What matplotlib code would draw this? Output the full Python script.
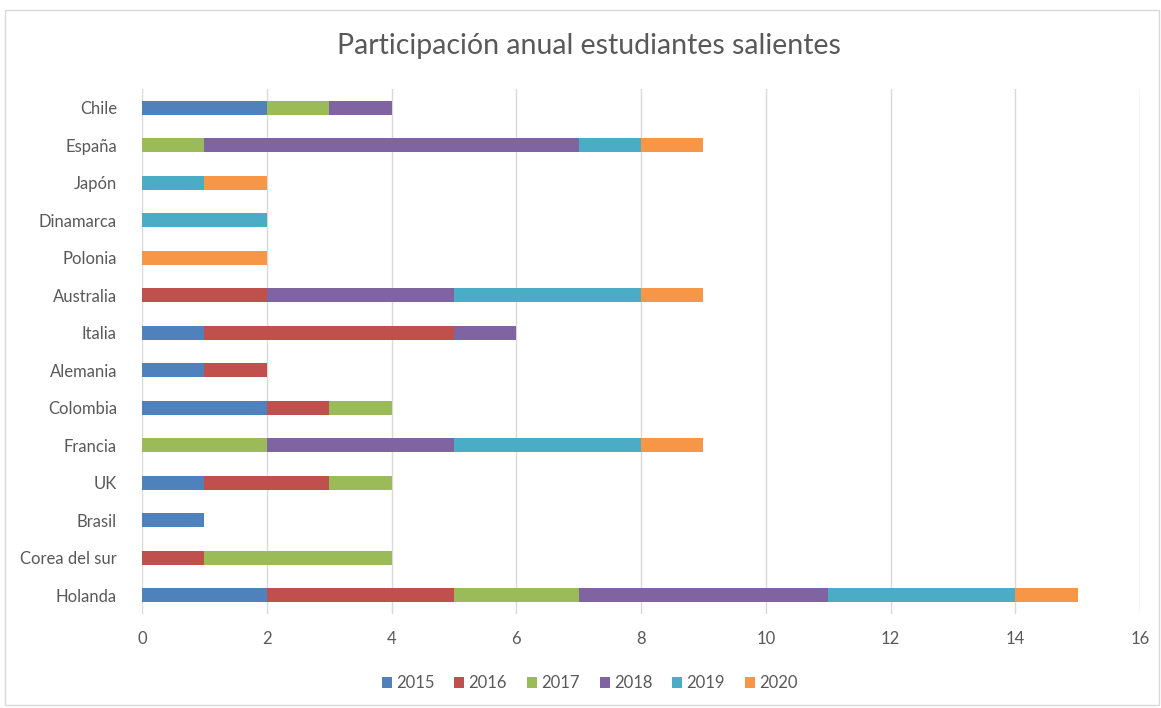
import matplotlib.pyplot as plt
from matplotlib.patches import Rectangle
import numpy as np

plt.rcParams['font.family'] = ['Lato', 'DejaVu Sans']

paises = ['Chile', 'España', 'Japón', 'Dinamarca', 'Polonia', 'Australia', 'Italia',
          'Alemania', 'Colombia', 'Francia', 'UK', 'Brasil', 'Corea del sur', 'Holanda']
anios = ['2015', '2016', '2017', '2018', '2019', '2020']
colores = ['#4F81BD', '#C0504D', '#9BBB59', '#8064A2', '#4BACC6', '#F79646']

# estudiantes por año, en el orden de paises
v2015 = [2, 0, 0, 0, 0, 0, 1, 1, 2, 0, 1, 1, 0, 2]
v2016 = [0, 0, 0, 0, 0, 2, 4, 1, 1, 0, 2, 0, 1, 3]
v2017 = [1, 1, 0, 0, 0, 0, 0, 0, 1, 2, 1, 0, 3, 2]
v2018 = [1, 6, 0, 0, 0, 3, 1, 0, 0, 3, 0, 0, 0, 4]
v2019 = [0, 1, 1, 2, 0, 3, 0, 0, 0, 3, 0, 0, 0, 3]
v2020 = [0, 1, 1, 0, 2, 1, 0, 0, 0, 1, 0, 0, 0, 1]
series = [v2015, v2016, v2017, v2018, v2019, v2020]

fig = plt.figure(figsize=(11.61, 7.08), dpi=100)
ax = fig.add_axes([0.1223, 0.1328, 0.8597, 0.7415])

y = np.arange(len(paises))
izq = np.zeros(len(paises))
for anio, vals, c in zip(anios, series, colores):
    ax.barh(y, vals, left=izq, height=0.38, color=c, label=anio, zorder=3)
    izq += np.array(vals)

ax.set_ylim(len(paises) - 0.5, -0.5)
ax.set_yticks(y)
ax.set_yticklabels(paises)
ax.set_xlim(0, 16)
ax.set_xticks(range(0, 17, 2))
ax.grid(axis='x', color='#D9D9D9', linewidth=1, zorder=0)
for s in ax.spines.values():
    s.set_visible(False)
ax.tick_params(length=0, labelsize=12, colors='#595959')
ax.tick_params(axis='x', pad=12)
ax.tick_params(axis='y', pad=18)

fig.text(0.507, 0.935, 'Participación anual estudiantes salientes',
         ha='center', va='center', fontsize=20.5, color='#595959')

leg = fig.legend(loc='center', bbox_to_anchor=(0.508, 0.035), ncol=6, frameon=False,
                 fontsize=12, handlelength=0.6, handleheight=0.6,
                 handletextpad=0.25, columnspacing=1.2)
for t in leg.get_texts():
    t.set_color('#595959')

fig.patches.append(Rectangle((5 / 1161, 3 / 708), 1154 / 1161, 695 / 708,
                             transform=fig.transFigure, fill=False,
                             edgecolor='#D9D9D9', linewidth=1))

fig.savefig('out.png', dpi=100)
